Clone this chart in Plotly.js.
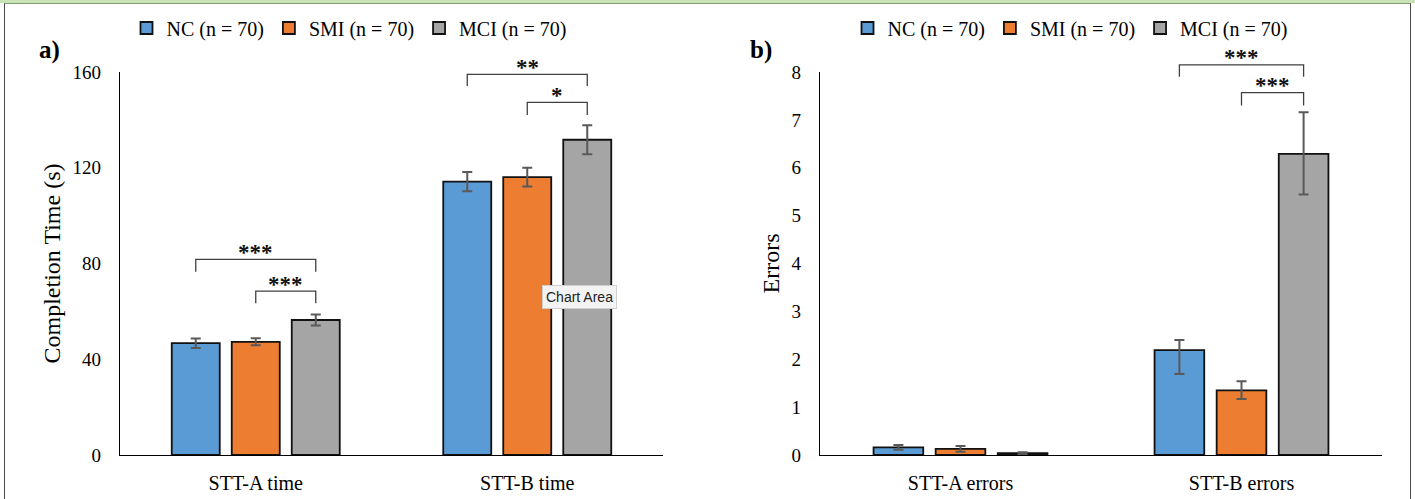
<!DOCTYPE html>
<html><head><meta charset="utf-8">
<script src="https://cdn.plot.ly/plotly-3.0.1.min.js"></script>
<style>
html,body{margin:0;padding:0;background:#fff;}
#wrap{position:relative;width:1415px;height:499px;overflow:hidden;background:#fff;}
#strip{position:absolute;left:0;top:0;width:1415px;height:3px;background:#c9e2b8;}
#frame{position:absolute;left:4px;top:3px;width:1405px;height:530px;border:1.5px solid #4a4a4a;border-top-color:#7f9c6e;}
#chart{position:absolute;left:0;top:0;width:1415px;height:499px;}
</style></head>
<body><div id="wrap"><div id="strip"></div><div id="frame"></div><div id="chart"></div></div>
<script>
// ---------- data ----------
const groups = ['NC (n = 70)', 'SMI (n = 70)', 'MCI (n = 70)'];
const timeCategories = ['STT-A time', 'STT-B time'];
const errorCategories = ['STT-A errors', 'STT-B errors'];

const ncTime  = [46.7, 114.2];
const smiTime = [47.3, 116.1];
const mciTime = [56.4, 131.7];
const ncTimeSE  = [2.0, 4.0];
const smiTimeSE = [1.5, 3.9];
const mciTimeSE = [2.3, 6.1];

const ncErrors  = [0.16, 2.19];
const smiErrors = [0.13, 1.35];
const mciErrors = [0.04, 6.29];
const ncErrorsPlus   = [0.05, 0.21];
const ncErrorsMinus  = [0.05, 0.50];
const smiErrorsPlus  = [0.06, 0.19];
const smiErrorsMinus = [0.06, 0.18];
const mciErrorsPlus  = [0.02, 0.87];
const mciErrorsMinus = [0.02, 0.85];

// significance comparisons: category index, from group, to group, label, bracket top / leg end (data units)
const timeSigCat   = [0, 0, 1, 1];
const timeSigFrom  = [0, 1, 0, 1];
const timeSigTo    = [2, 2, 2, 2];
const timeSigLabel = ['***', '***', '**', '*'];
const timeSigTop   = [81.7, 68.5, 159.0, 147.3];
const timeSigLeg   = [76.6, 63.4, 154.2, 142.0];

const errSigCat   = [1, 1];
const errSigFrom  = [0, 1];
const errSigTo    = [2, 2];
const errSigLabel = ['***', '***'];
const errSigTop   = [8.15, 7.57];
const errSigLeg   = [7.90, 7.30];

// ---------- style ----------
const colors = ['#5B9BD5', '#ED7D31', '#A5A5A5'];
const serif = 'Liberation Serif, Times New Roman, serif';
const W = 1415, H = 499;
const bargap = 0.337, bargroupgap = 0.2;
const slot = (1 - bargap) / 3;
const yTime = [0, 160], yErr = [0, 8];

function barTrace(x, y, i, xa, ya, leg, errPlus, errMinus) {
  const e = {type: 'data', array: errPlus, color: '#595959', thickness: 2, width: 5, symmetric: !errMinus};
  if (errMinus) e.arrayminus = errMinus;
  return {
    type: 'bar', x: x, y: y, name: groups[i], xaxis: xa, yaxis: ya, legend: leg,
    marker: {color: colors[i], line: {color: '#111', width: 1.8}},
    error_y: e, hoverinfo: 'skip'
  };
}

const data = [
  barTrace(timeCategories, ncTime, 0, 'x', 'y', 'legend', ncTimeSE),
  barTrace(timeCategories, smiTime, 1, 'x', 'y', 'legend', smiTimeSE),
  barTrace(timeCategories, mciTime, 2, 'x', 'y', 'legend', mciTimeSE),
  barTrace(errorCategories, ncErrors, 0, 'x2', 'y2', 'legend2', ncErrorsPlus, ncErrorsMinus),
  barTrace(errorCategories, smiErrors, 1, 'x2', 'y2', 'legend2', smiErrorsPlus, smiErrorsMinus),
  barTrace(errorCategories, mciErrors, 2, 'x2', 'y2', 'legend2', mciErrorsPlus, mciErrorsMinus)
];

const shapes = [], annotations = [];
function addBrackets(cat, from, to, label, top, leg, xa, ya, yMax) {
  for (let k = 0; k < cat.length; k++) {
    const x1 = cat[k] + (from[k] - 1) * slot;
    const x2 = cat[k] + (to[k] - 1) * slot;
    const yt = top[k] / yMax, yl = leg[k] / yMax;
    shapes.push({
      type: 'path', xref: xa, yref: ya + ' domain',
      path: `M${x1},${yl} L${x1},${yt} L${x2},${yt} L${x2},${yl}`,
      line: {color: '#404040', width: 1.3}
    });
    annotations.push({
      xref: xa, yref: ya + ' domain', x: (x1 + x2) / 2, y: yt,
      text: '<b>' + label[k] + '</b>', showarrow: false, yanchor: 'middle', yshift: 7,
      font: {family: serif, size: 23, color: '#111'}
    });
  }
}
addBrackets(timeSigCat, timeSigFrom, timeSigTo, timeSigLabel, timeSigTop, timeSigLeg, 'x', 'y', yTime[1]);
addBrackets(errSigCat, errSigFrom, errSigTo, errSigLabel, errSigTop, errSigLeg, 'x2', 'y2', yErr[1]);

annotations.push({xref: 'paper', yref: 'paper', x: 37 / W, y: 1 - 34 / H, text: '<b>a)</b>', showarrow: false,
  font: {family: serif, size: 25, color: '#000'}});
annotations.push({xref: 'paper', yref: 'paper', x: 761 / W, y: 1 - 34 / H, text: '<b>b)</b>', showarrow: false,
  font: {family: serif, size: 25, color: '#000'}});
annotations.push({xref: 'paper', yref: 'paper', x: 579 / W, y: 1 - 297 / H, text: 'Chart Area', showarrow: false,
  font: {family: 'Liberation Sans, Arial, sans-serif', size: 14, color: '#222'},
  bgcolor: '#f3f3f3', bordercolor: '#d0d0d0', borderwidth: 1, borderpad: 3});

const yDom = [1 - 455 / H, 1 - 72 / H];
const xaxisBase = {
  type: 'category', range: [-0.5, 1.5], showline: true, linecolor: '#000', linewidth: 1.3,
  ticks: '', showgrid: false, zeroline: false, fixedrange: true, ticklabelstandoff: 10,
  tickfont: {family: serif, size: 20, color: '#000'}
};
const yaxisBase = {
  showline: true, linecolor: '#000', linewidth: 1.3, ticks: '', showgrid: false, zeroline: false,
  fixedrange: true, ticklabelstandoff: 14, domain: yDom,
  tickfont: {family: serif, size: 19, color: '#000'}
};
const legendBase = {
  orientation: 'h', xanchor: 'center', yanchor: 'middle', y: 1 - 28 / H, itemwidth: 30,
  bgcolor: 'rgba(0,0,0,0)', font: {family: serif, size: 20, color: '#000'}, traceorder: 'normal'
};

const layout = {
  width: W, height: H, margin: {l: 0, r: 0, t: 0, b: 0},
  paper_bgcolor: 'rgba(0,0,0,0)', plot_bgcolor: '#fff',
  barmode: 'group', bargap: bargap, bargroupgap: bargroupgap,
  font: {family: serif, color: '#000'},
  showlegend: true,
  xaxis: Object.assign({}, xaxisBase, {domain: [120 / W, 663 / W], anchor: 'y'}),
  yaxis: Object.assign({}, yaxisBase, {anchor: 'x', range: yTime, tickvals: [0, 40, 80, 120, 160],
    title: {text: 'Completion Time (s)', font: {family: serif, size: 24, color: '#000'}, standoff: 5}}),
  xaxis2: Object.assign({}, xaxisBase, {domain: [820 / W, 1382 / W], anchor: 'y2'}),
  yaxis2: Object.assign({}, yaxisBase, {anchor: 'x2', range: yErr, dtick: 1,
    title: {text: 'Errors', font: {family: serif, size: 24, color: '#000'}, standoff: 5}}),
  legend: Object.assign({}, legendBase, {x: 349 / W}),
  legend2: Object.assign({}, legendBase, {x: 1070 / W}),
  shapes: shapes, annotations: annotations
};

Plotly.newPlot('chart', data, layout, {displayModeBar: false, staticPlot: true});
</script></body></html>
